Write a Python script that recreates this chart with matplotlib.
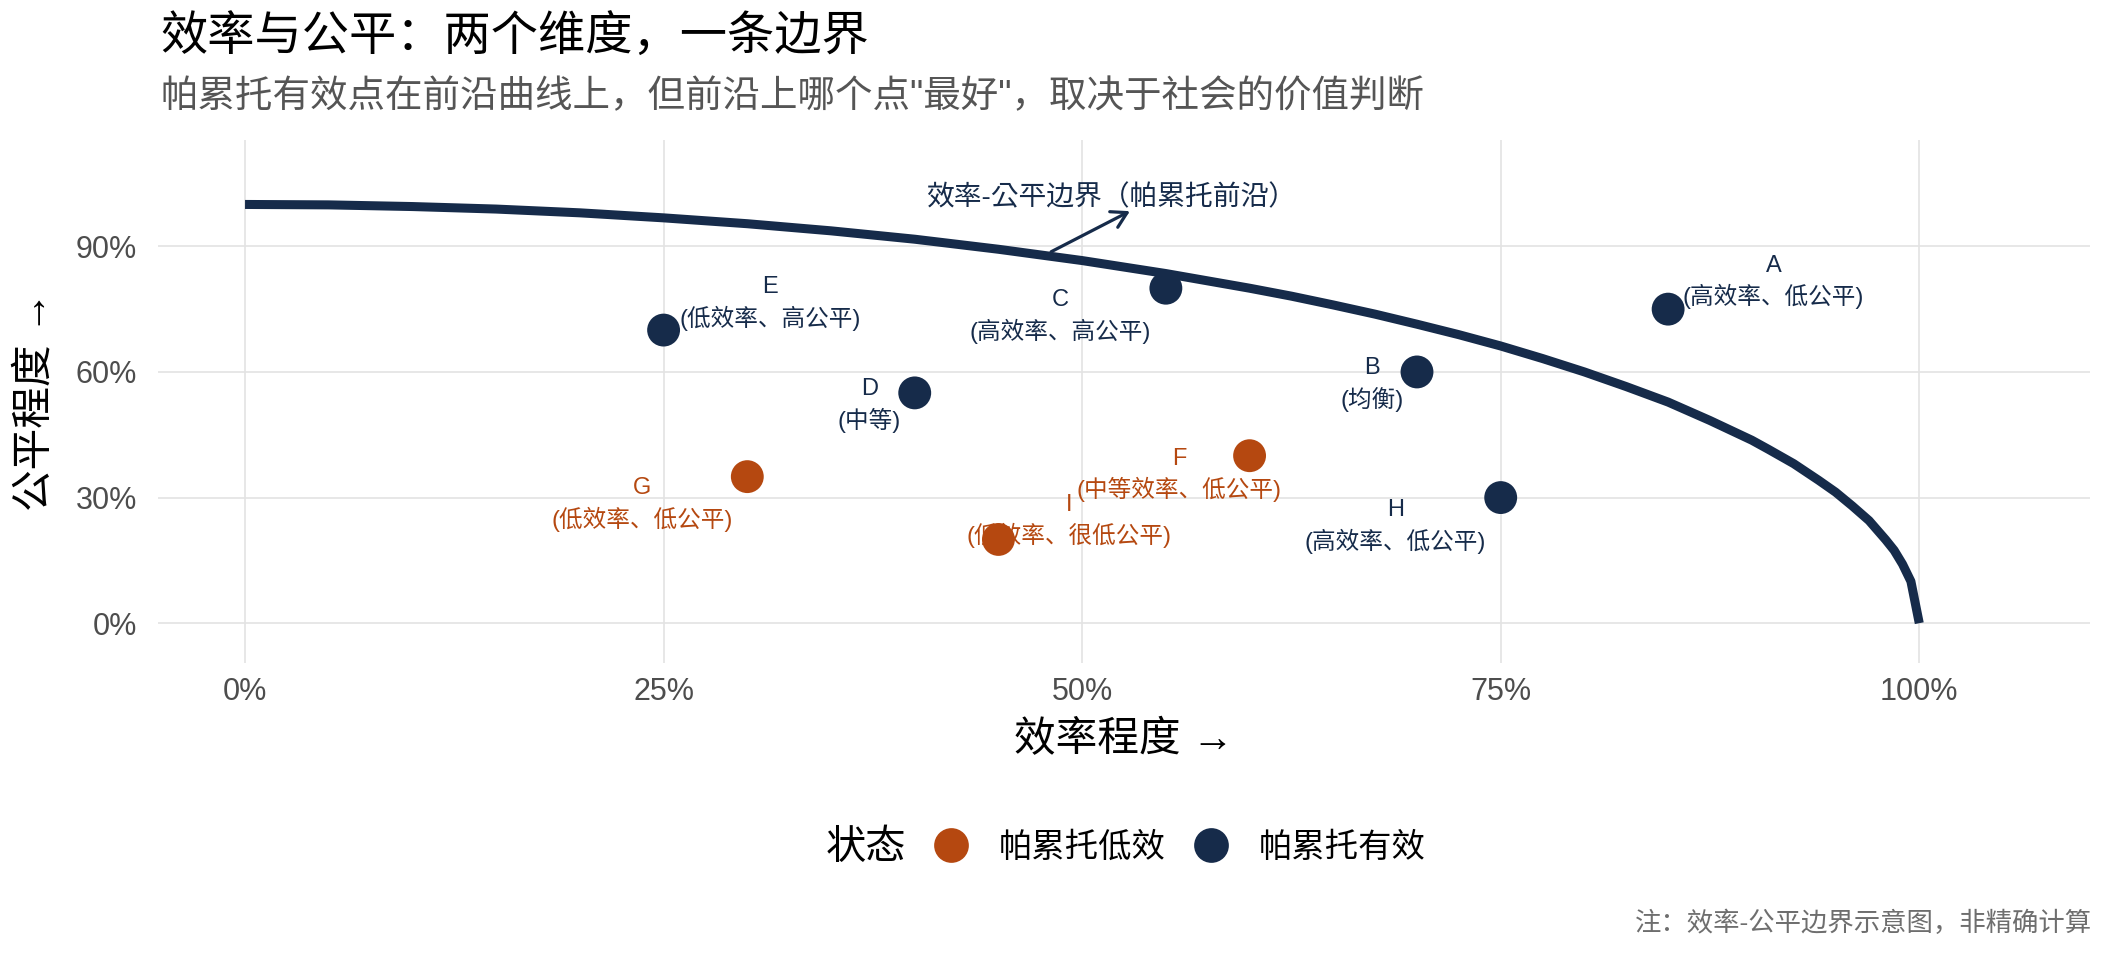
import matplotlib
matplotlib.use("Agg")
import matplotlib.pyplot as plt
from matplotlib.lines import Line2D
from matplotlib.patches import FancyArrowPatch

plt.rcParams['font.family'] = ['Liberation Sans', 'Noto Sans CJK SC', 'DejaVu Sans']

# ---------------- data ----------------
point_names = ["A", "B", "C", "D", "E", "F", "G", "H", "I"]
point_desc = ["(高效率、低公平)", "(均衡)", "(高效率、高公平)", "(中等)", "(低效率、高公平)",
              "(中等效率、低公平)", "(低效率、低公平)", "(高效率、低公平)", "(低效率、很低公平)"]
efficiency = [0.85, 0.70, 0.55, 0.40, 0.25, 0.60, 0.30, 0.75, 0.45]
equity = [0.75, 0.60, 0.80, 0.55, 0.70, 0.40, 0.35, 0.30, 0.20]
status = ["帕累托有效", "帕累托有效", "帕累托有效", "帕累托有效", "帕累托有效",
          "帕累托低效", "帕累托低效", "帕累托有效", "帕累托低效"]

frontier_x = [0.0, 0.05, 0.10, 0.15, 0.20, 0.25, 0.30, 0.35, 0.40, 0.45, 0.50, 0.55,
              0.60, 0.625, 0.65, 0.675, 0.70, 0.725, 0.75, 0.775, 0.80, 0.825, 0.85, 0.875,
              0.90, 0.91, 0.925, 0.94, 0.95, 0.96, 0.97, 0.975, 0.98, 0.985, 0.99, 0.995, 1.0]
frontier_y = [1.000, 0.999, 0.995, 0.989, 0.980, 0.968, 0.954, 0.937, 0.917, 0.893, 0.866, 0.835,
              0.800, 0.781, 0.760, 0.738, 0.714, 0.689, 0.662, 0.632, 0.600, 0.565, 0.528, 0.484,
              0.437, 0.415, 0.381, 0.341, 0.313, 0.280, 0.245, 0.222, 0.199, 0.174, 0.141, 0.100, 0.0]

x_ticks = [0.0, 0.25, 0.50, 0.75, 1.0]
x_tick_labels = ["0%", "25%", "50%", "75%", "100%"]
y_ticks = [0.0, 0.3, 0.6, 0.9]
y_tick_labels = ["0%", "30%", "60%", "90%"]

status_order = ["帕累托低效", "帕累托有效"]

# ---------------- layout / style (not data) ----------------
label_dx = [0.063, -0.027, -0.063, -0.027, 0.0635, -0.042, -0.063, -0.063, 0.042]
label_dy = [0.065, -0.030, -0.067, -0.031, 0.0635, -0.046, -0.067, -0.069, 0.044]

NAVY = "#162B4A"
ORANGE = "#B54810"
colors = {"帕累托低效": ORANGE, "帕累托有效": NAVY}

fig = plt.figure(figsize=(21.12, 9.6), dpi=100)
ax = fig.add_axes([0.0748, 0.3094, 0.9148, 0.5448])

ax.set_xlim(-0.052, 1.102)
ax.set_ylim(-0.095, 1.154)

for s in ax.spines.values():
    s.set_visible(False)
ax.set_xticks(x_ticks)
ax.set_xticklabels(x_tick_labels)
ax.set_yticks(y_ticks)
ax.set_yticklabels(y_tick_labels)
ax.tick_params(axis='both', length=0, labelsize=22, labelcolor="#4D4D4D")
ax.tick_params(axis='x', pad=10)
ax.tick_params(axis='y', pad=15)
ax.grid(True, color="#E3E3E3", linewidth=1.2)
ax.set_axisbelow(True)

# frontier
ax.plot(frontier_x, frontier_y, color=NAVY, linewidth=6.5, solid_capstyle='butt',
        solid_joinstyle='round', zorder=2)

# arrow + annotation
arr = FancyArrowPatch((0.480, 0.884), (0.530, 0.987), arrowstyle='->,head_length=0.6,head_width=0.35',
                      mutation_scale=18, color=NAVY, linewidth=2.3, zorder=3)
ax.add_patch(arr)
ax.text(0.517, 1.016, "效率-公平边界（帕累托前沿）", fontsize=20, color=NAVY,
        family=['Liberation Sans', 'Noto Sans CJK KR', 'DejaVu Sans'],
        ha='center', va='center', zorder=3)

# labels
for i in range(len(point_names)):
    c = colors[status[i]]
    ax.text(efficiency[i] + label_dx[i], equity[i] + label_dy[i],
            point_names[i] + "\n" + point_desc[i], fontsize=17, color=c,
            ha='center', va='center', multialignment='center', linespacing=1.38, zorder=3)

# points
handles = []
for st in status_order:
    xs = [efficiency[i] for i in range(len(status)) if status[i] == st]
    ys = [equity[i] for i in range(len(status)) if status[i] == st]
    ax.scatter(xs, ys, s=560, color=colors[st], edgecolors='none', zorder=4)
    handles.append(Line2D([], [], linestyle='none', marker='o', markersize=25,
                          markerfacecolor=colors[st], markeredgewidth=0))

ax.set_xlabel("效率程度 →", fontsize=30, color="black", va='center')
ax.xaxis.set_label_coords(0.5, -0.147)
ax.set_ylabel("公平程度 →", fontsize=30, color="black", va='center', ha='center')
ax.yaxis.set_label_coords(-0.0631, 0.5)

# titles
fig.text(0.0758, 0.960, "效率与公平：两个维度，一条边界", fontsize=34, color="black",
         fontweight='medium', ha='left', va='center')
fig.text(0.0758, 0.899, "帕累托有效点在前沿曲线上，但前沿上哪个点\"最好\"，取决于社会的价值判断",
         fontsize=27, color="#555555", ha='left', va='center')

# legend
fig.text(906 / 2112, 0.1167, "状态", fontsize=29, color="black", ha='right', va='center')
fig.legend(handles=handles, labels=status_order, loc='center left',
           bbox_to_anchor=(934 / 2112, 0.1167), ncol=2, frameon=False,
           borderpad=0, borderaxespad=0, handlelength=1.0, handletextpad=0.94,
           columnspacing=0.86, prop={'size': 24})

# caption
fig.text(0.9905, 0.0385, "注：效率-公平边界示意图，非精确计算", fontsize=19, color="#6E6E6E",
         ha='right', va='center')

fig.savefig("out.png", dpi=100)
